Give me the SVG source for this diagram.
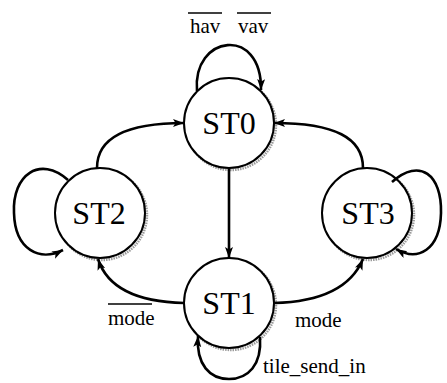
<svg xmlns="http://www.w3.org/2000/svg" width="447" height="383" viewBox="0 0 447 383">
<style>
.shadow{fill:none;stroke:#9a9a9a;stroke-width:2.5;stroke-dasharray:1.5 1}
.state{fill:#fff;stroke:#000;stroke-width:2}
.name{font-family:"Liberation Serif",serif;font-size:32px;text-anchor:middle;fill:#000}
.lbl{font-family:"Liberation Serif",serif;font-size:21px;fill:#000}
.edge{fill:none;stroke:#000;stroke-width:2.6;marker-end:url(#ah)}
.bar{stroke:#000;stroke-width:1.3}
</style>
<defs>
<marker id="ah" markerUnits="userSpaceOnUse" markerWidth="12" markerHeight="10" refX="11" refY="4" orient="auto">
<path d="M0,0 L11,4 L0,8 L2.5,4 Z" fill="#000"/>
</marker>
</defs>
<g id="ST0">
<circle class="shadow" cx="231" cy="125" r="45"/>
<circle class="state" cx="229" cy="123" r="45"/>
<text class="name" x="229" y="134">ST0</text>
</g>
<g id="ST2">
<circle class="shadow" cx="102" cy="215" r="45"/>
<circle class="state" cx="100" cy="213" r="45"/>
<text class="name" x="99" y="224">ST2</text>
</g>
<g id="ST3">
<circle class="shadow" cx="369" cy="215" r="45"/>
<circle class="state" cx="367" cy="213" r="45"/>
<text class="name" x="368" y="224">ST3</text>
</g>
<g id="ST1">
<circle class="shadow" cx="231" cy="305" r="45"/>
<circle class="state" cx="229" cy="303" r="45"/>
<text class="name" x="229" y="314">ST1</text>
</g>
<g id="connectors">
<path class="edge" d="M197,91 C192,35 262,25 261,90"/>
<path class="edge" d="M229,168 L229,258"/>
<path class="edge" d="M97,168 C97,138 125,123 184,123"/>
<path class="edge" d="M363,168 C363,138 335,123 274,123"/>
<path class="edge" d="M274,303 C315,302 350,290 363,259"/>
<path class="edge" d="M184,303 C140,302 108,290 98,259"/>
<path class="edge" d="M68,180 C40,155 12,175 14,213 C15,250 40,262 63,250"/>
<path class="edge" d="M392,182 C420,157 442,175 441,213 C440,250 418,262 396,249"/>
<path class="edge" d="M260,337 C262,365 248,379 229,379 C210,379 196,365 198,336"/>
</g>
<g id="labels">
<line class="bar" x1="188" y1="13" x2="222" y2="13"/>
<text class="lbl" x="190" y="33">hav</text>
<line class="bar" x1="237" y1="13" x2="271" y2="13"/>
<text class="lbl" x="238" y="33">vav</text>
<line class="bar" x1="108" y1="304" x2="152" y2="304"/>
<text class="lbl" x="108" y="325">mode</text>
<text class="lbl" x="295" y="327">mode</text>
<text class="lbl" x="263" y="373">tile_send_in</text>
</g>
</svg>
